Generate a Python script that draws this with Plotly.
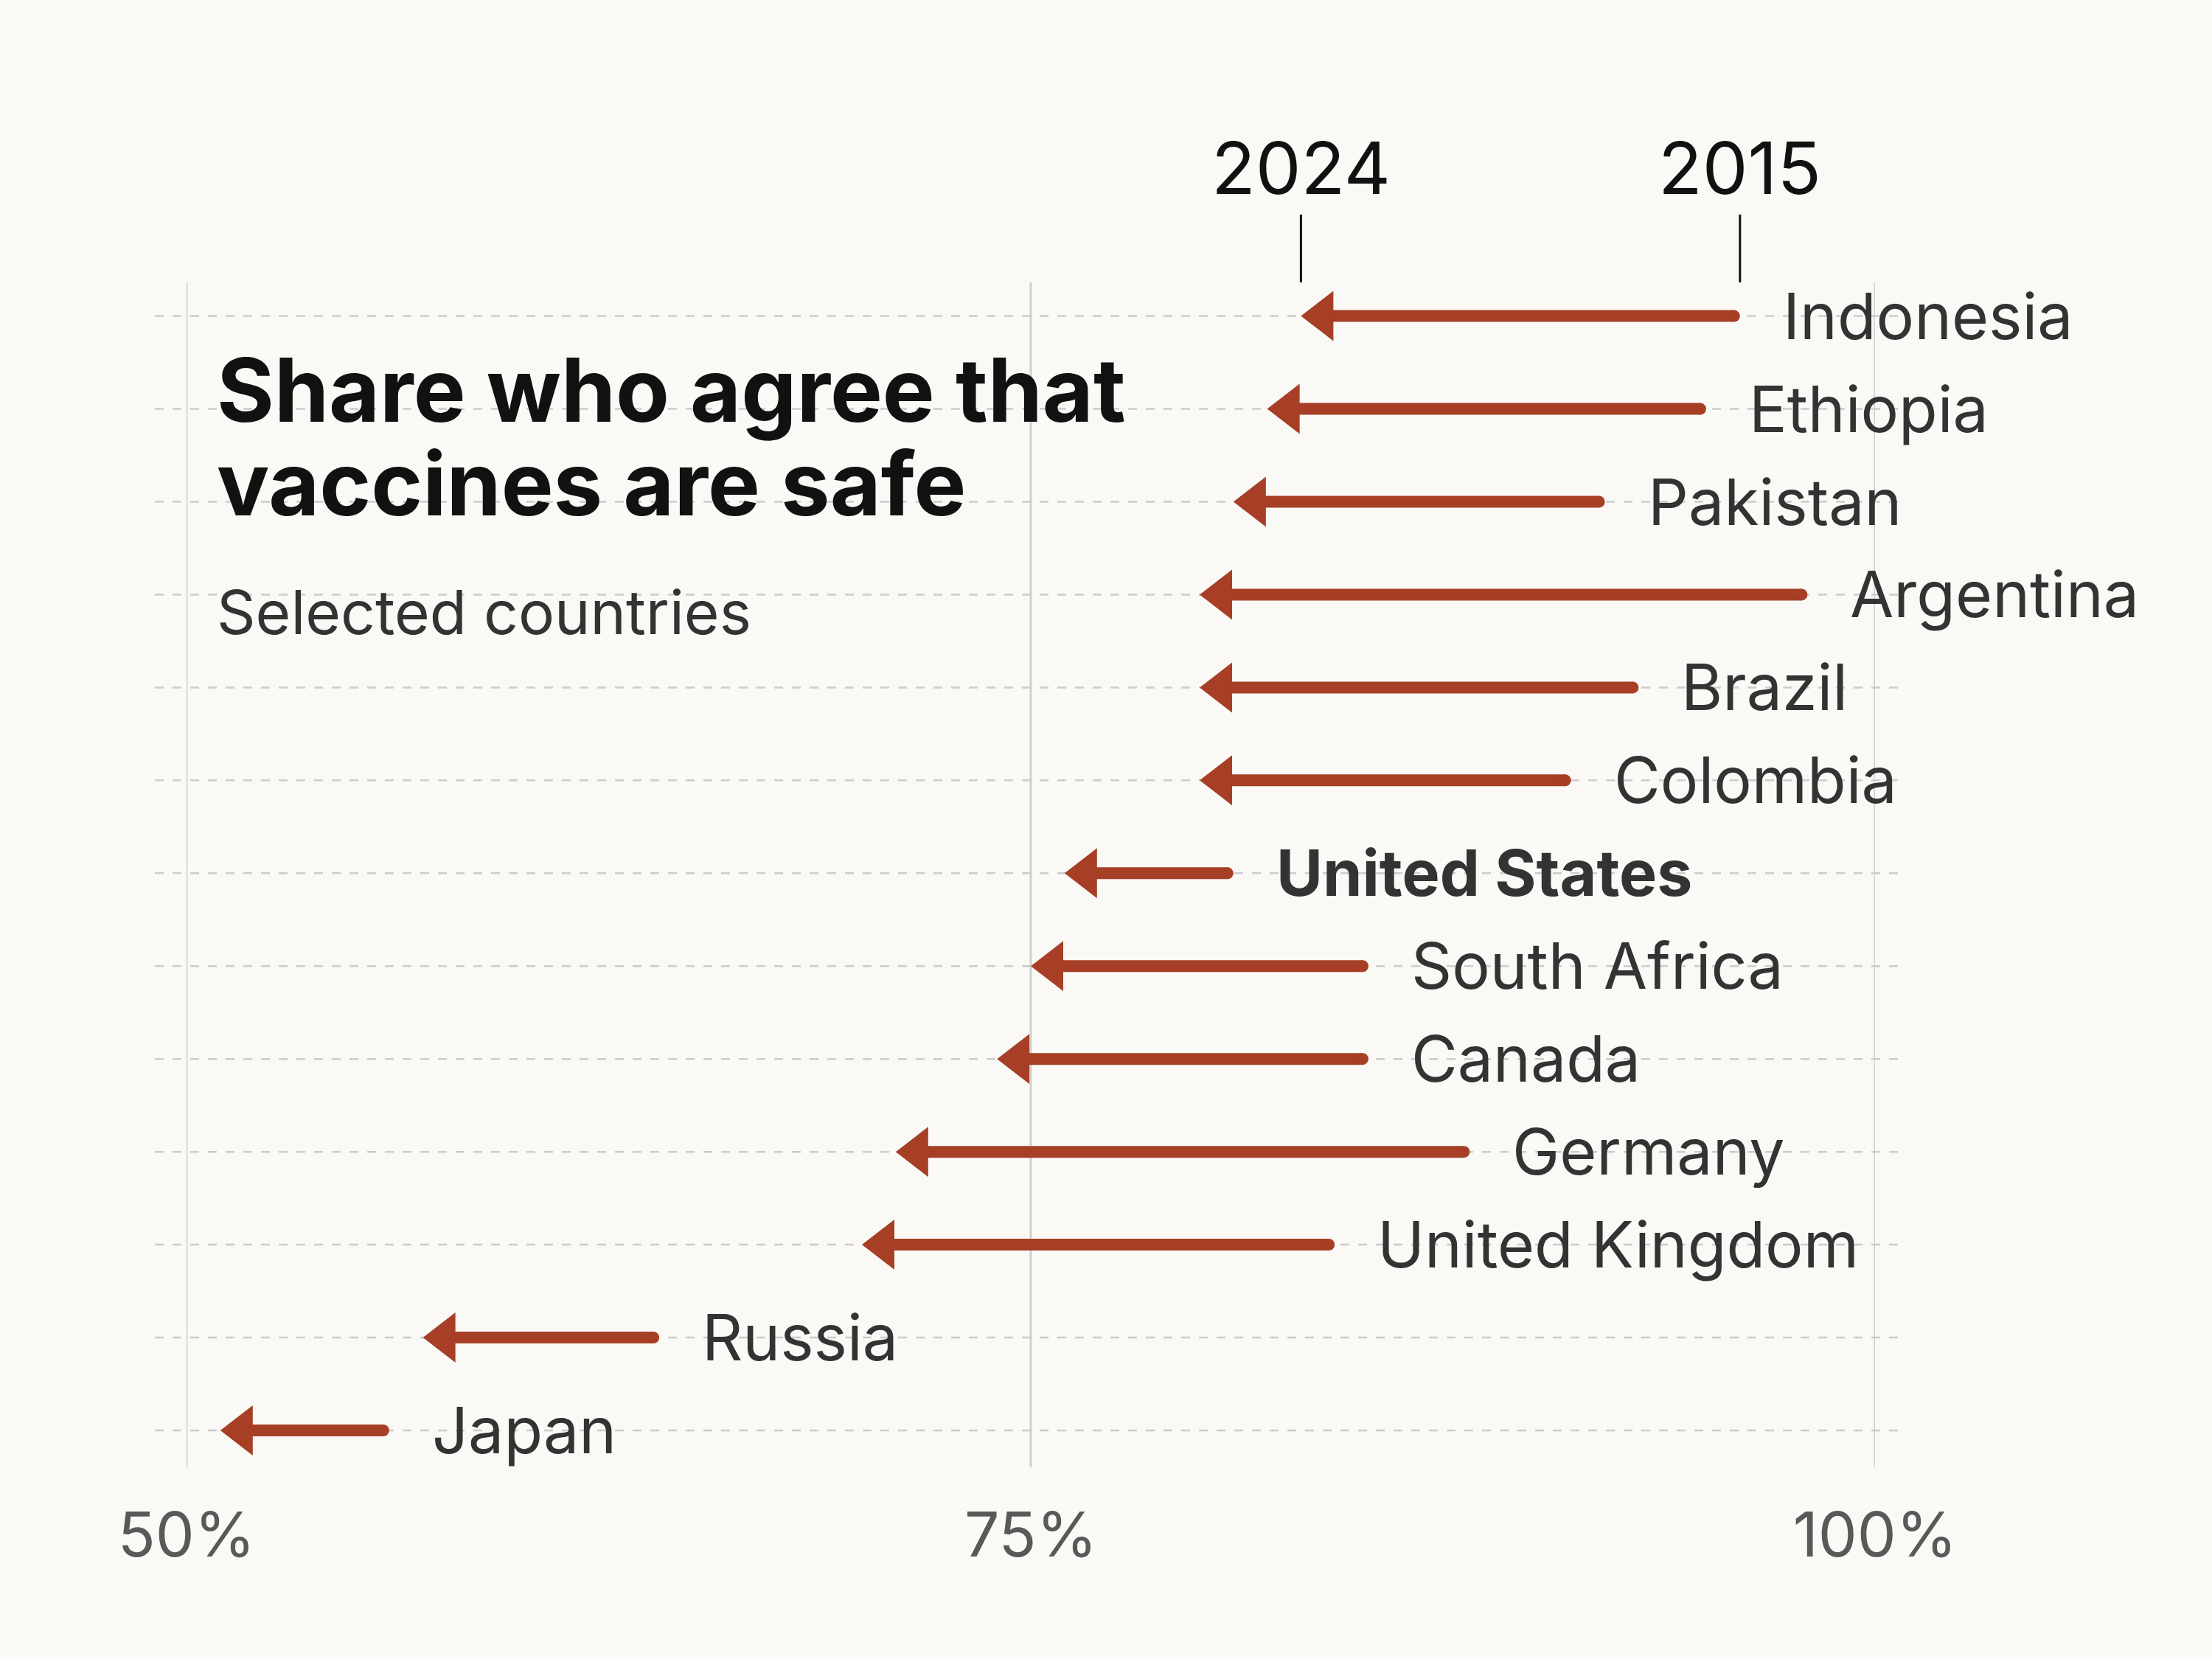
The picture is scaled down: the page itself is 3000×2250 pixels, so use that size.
import plotly.graph_objects as go

countries = ["Indonesia", "Ethiopia", "Pakistan", "Argentina", "Brazil", "Colombia",
             "United States", "South Africa", "Canada", "Germany", "United Kingdom",
             "Russia", "Japan"]
share_2015 = [96, 95, 92, 98, 93, 91, 81, 85, 85, 88, 84, 64, 56]
share_2024 = [83, 82, 81, 80, 80, 80, 76, 75, 74, 71, 70, 57, 51]
tick_vals = [50, 75, 100]
tick_text = ["50%", "75%", "100%"]
highlight = "United States"
title_lines = ["Share who agree that", "vaccines are safe"]
subtitle = "Selected countries"

BG = "#faf9f6"
RED = "#a63f25"
TXT = "#333333"
FONT = "Inter"

W, H = 3000, 2250
L, R, T, B = 253, 457, 383, 260
plot_w = W - L - R
plot_h = H - T - B
px_per_pct = plot_w / 50.0
row_px = 125.96

def px_to_paper_y(py):
    return (H - B - py) / plot_h

def px_to_paper_x(px):
    return (px - L) / plot_w

head_w = 44 / px_per_pct      # arrowhead length in data units
head_h = 34 / row_px          # arrowhead half-height in row units
cap = 8 / px_per_pct

fig = go.Figure()
rows = list(range(len(countries)))

shapes = []
# vertical grid lines
for v in tick_vals:
    shapes.append(dict(type="line", xref="x", yref="paper", x0=v, x1=v, y0=0, y1=1,
                       line=dict(color="#d0d0d0", width=3), layer="below"))
# horizontal dashed row guides
for r in rows:
    shapes.append(dict(type="line", xref="paper", yref="y",
                       x0=px_to_paper_x(210), x1=px_to_paper_x(2583), y0=r, y1=r,
                       line=dict(color="#cccccc", width=2.5, dash="12px,12px"),
                       layer="below"))

# shafts
for r, a, b in zip(rows, share_2015, share_2024):
    fig.add_trace(go.Scatter(x=[b + head_w * 0.6, a - cap], y=[r, r], mode="lines",
                             line=dict(color=RED, width=16), hoverinfo="skip",
                             showlegend=False))
# round caps
fig.add_trace(go.Scatter(x=[a - cap for a in share_2015], y=rows, mode="markers",
                         marker=dict(color=RED, size=16, line=dict(width=0)),
                         hoverinfo="skip", showlegend=False, cliponaxis=False))
# arrowheads
for r, b in zip(rows, share_2024):
    fig.add_trace(go.Scatter(x=[b, b + head_w, b + head_w, b],
                             y=[r, r - head_h, r + head_h, r],
                             mode="lines", fill="toself", fillcolor=RED,
                             line=dict(width=0, color=RED), hoverinfo="skip",
                             showlegend=False))

annotations = []
for r, c, a in zip(rows, countries, share_2015):
    annotations.append(dict(x=a, y=r, xref="x", yref="y", text=c, showarrow=False,
                            xanchor="left", yanchor="middle", xshift=56,
                            font=dict(family=FONT, size=86, color=TXT,
                                      weight=700 if c == highlight else 400)))

# year header labels with tick lines
for yr, v in (("2024", share_2024[0]), ("2015", share_2015[0])):
    annotations.append(dict(x=v, y=px_to_paper_y(228), xref="x", yref="paper",
                            text=yr, showarrow=False, xanchor="center", yanchor="middle",
                            font=dict(family=FONT, size=98, color="#111111")))
    shapes.append(dict(type="line", xref="x", yref="paper", x0=v, x1=v,
                       y0=1.0, y1=px_to_paper_y(291),
                       line=dict(color="#111111", width=3)))

# title (one text block; small base size gives tight leading, spans enlarge glyphs)
title_html = "<br>".join('<span style="font-size:119px">%s</span>' % t for t in title_lines)
annotations.append(dict(x=px_to_paper_x(292), y=px_to_paper_y(592), xref="paper",
                        yref="paper", text=title_html, showarrow=False, xanchor="left",
                        yanchor="middle", align="left",
                        font=dict(family=FONT, size=98, color="#111111", weight=700)))
annotations.append(dict(x=px_to_paper_x(292), y=px_to_paper_y(830), xref="paper", yref="paper",
                        text=subtitle, showarrow=False, xanchor="left",
                        yanchor="middle",
                        font=dict(family=FONT, size=82, color=TXT)))

fig.update_layout(
    width=W, height=H,
    margin=dict(l=L, r=R, t=T, b=B),
    paper_bgcolor=BG, plot_bgcolor=BG,
    showlegend=False,
    shapes=shapes, annotations=annotations,
    xaxis=dict(range=[50, 100], tickvals=tick_vals, ticktext=tick_text,
               showgrid=False, zeroline=False,
               showline=False, ticks="", ticklabelstandoff=36,
               tickfont=dict(family=FONT, size=84, color="#595959")),
    yaxis=dict(range=[len(countries) - 1 + 50 / row_px, -45.6 / row_px],
               showgrid=False, zeroline=False, showticklabels=False, showline=False),
)

fig.write_html("out.html", config={"displayModeBar": False},
               post_script="document.body.style.margin='0';document.body.style.background='%s';" % BG)
